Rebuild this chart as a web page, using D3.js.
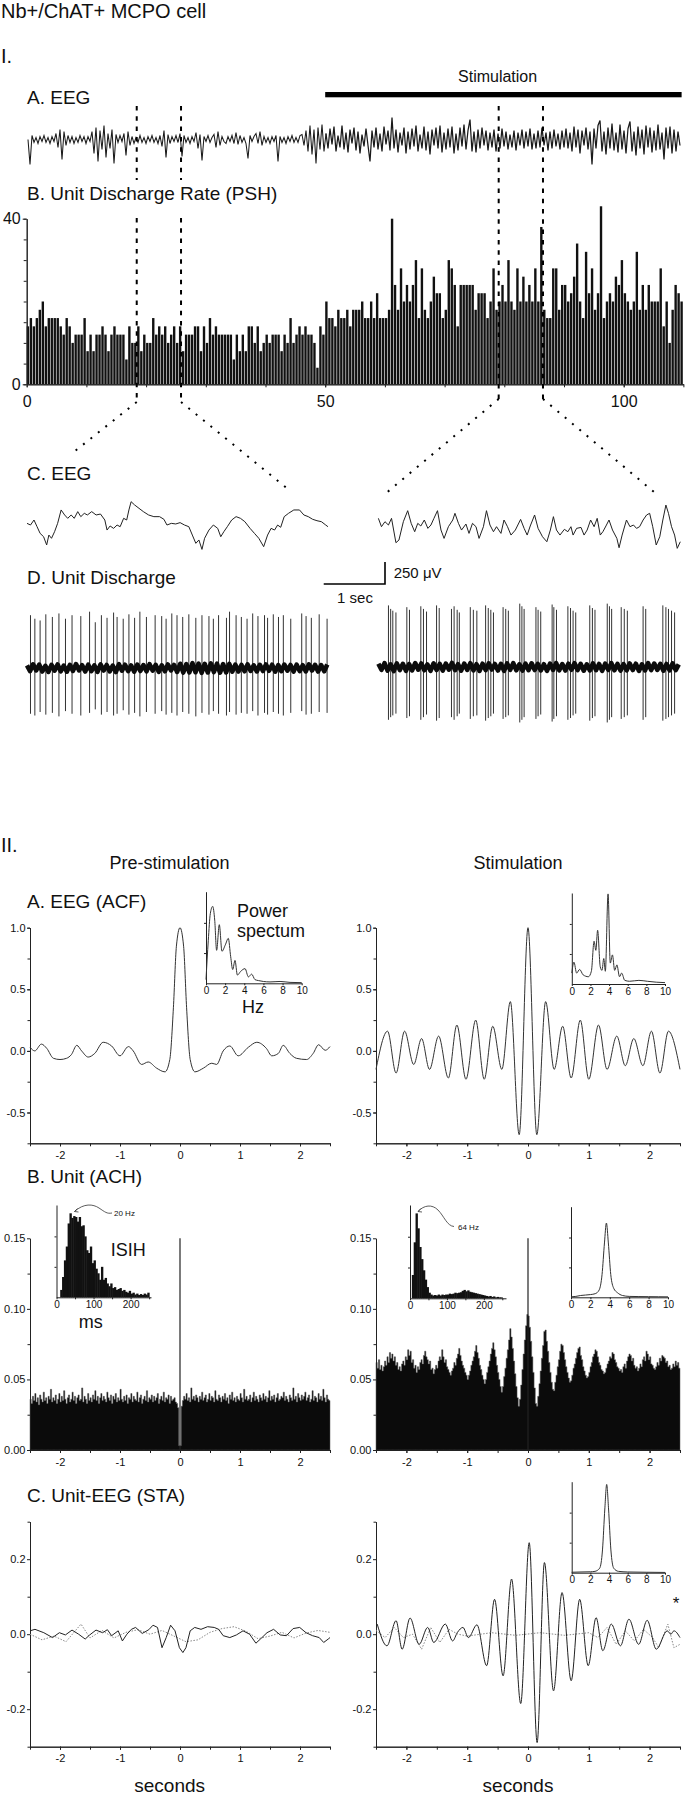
<!DOCTYPE html>
<html><head><meta charset="utf-8">
<script src="https://cdn.jsdelivr.net/npm/d3@7/dist/d3.min.js"></script>
<style>body{margin:0;background:#fff}svg{display:block}</style>
</head><body>
<svg id="c" width="686" height="1800"></svg>
<script>
// ===================== DATA =====================
const titleText = "Nb+/ChAT+ MCPO cell";
// I.B  PSH, 0.5 s bins (spikes/s)
const pshBinSec = 0.5;
const pshRate = [
14,16,14,16,18,20,14,16,16,16, 16,14,12,16,14,10,12,12,12,16, 8,12,8,12,12,14,12,8,12,14,
12,12,12,6,14,10,10,14,8,12, 10,10,16,12,14,12,14,10,12,14, 10,14,8,12,12,12,14,14,8,14,
10,16,12,14,12,12,12,12,12,6, 12,8,12,8,14,14,10,14,8,10, 12,10,12,12,12,8,12,10,16,10,
12,14,12,14,12,12,10,4,14,12, 20,16,16,14,18,16,
16,18,14,18,18,18,20,16,16,20, 16,22,16,16,16,18,40,24,18,28, 20,24,20,24,30,16,28,18,16,20,
26,22,22,16,18,30,28,24,14,24, 24,24,24,24,18,22,22,22,16,20, 28,18,20,24,20,30,20,18,28,20,
26,20,24,20,28,20,38,18,16,16, 28,28,18,24,24,20,22,26,34,20, 16,32,22,28,18,22,43,16,20,22,
20,26,24,30,22,20,18,20,32,18, 24,18,24,20,20,20,28,14,20,10, 18,24,22,20];
const pshXTickLabels = [0, 50, 100];
const pshYTickLabels = [0, 40];
const stimulationSec = [50, 109.7];
const zoomMarksSec = [18.43, 25.85, 79.06, 86.48];
// I.A  EEG (relative amplitude)
const eegPre = [
0,-25,4,-3,2,-4,3,-2,4,-3, 2,-4,3,-2,6,-8,10,-20,8,-6, 4,-3,3,-4,2,-3,4,-2,3,-4,
3,-2,8,-14,12,-22,9,-10,14,-18, 6,-9,10,-24,5,-3,4,-2,6,-16, 8,-6,3,-4,2,-3,4,-3,2,-4,
3,-2,4,-3,2,-4,4,-7,9,-18, 5,-4,3,-2,4,-3,6,-17,4,-3, 2,-4,3,-2,7,-9,5,-21,3,-2,
4,-3,2,5,-8,8,-6,3,-2,-4, 3,-2,4,-4,7,-5,4,-3,2,-4, -19,4,-2,3,6,-4,8,-6,3,-3,
2,-4,3,-2,4,-22,3,-3,2,-4, 3,-2,4,-3,2,-3,4,5,-6,9, -12,14,-15,10,-24,12,-10,15,-12];
const eegStim = [
6,-9,11,-5,13,-12,4,-8,14,-10,7,-13,10,-4,12,-11,8,-14,5,-7,
11,-6,-22,9,-8,12,-10,6,-12,13,-5,9,-11,22,-9,10,-13,7,-6,12,
-14,8,-10,11,-7,14,-12,5,-9,13,-11,8,-15,10,-6,12,-9,14,-13,7,
-10,11,-8,13,-14,6,-11,12,-7,15,-10,9,20,-12,8,-13,10,-9,12,-6,
9,-11,7,-8,10,-12,6,-9,11,-7,8,-10,5,-8,9,-11,7,-6,10,-9,
8,-7,11,-10,6,-9,9,-8,12,-6,7,-11,8,-9,10,-7,6,-10,9,-8,
11,-9,7,-12,13,-8,10,-14,9,-6,12,-10,8,-25,11,-9,14,19,-12,8,
-15,12,-9,16,-11,7,-13,15,-10,9,-14,11,18,-12,8,-16,13,-9,10,-15,
14,-8,12,-13,9,-11,15,-10,7,-20,12,-9,13,-14,10,-12,8,-6];
// I.C  EEG segments [sec, µV]
const eegPreSeg = [[0,-38],[0.057,-57],[0.114,0],[0.164,-76],[0.214,-152],[0.271,-190],[0.321,-284],[0.357,-171],[0.4,-208],[0.45,-133],[0.5,-38],[0.557,114],[0.614,57],[0.664,19],[0.721,57],[0.771,19],[0.828,95],[0.878,38],[0.935,76],[0.985,57],[1.056,95],[1.128,57],[1.199,68],[1.27,0],[1.306,-114],[1.356,-68],[1.413,-95],[1.47,-57],[1.52,-76],[1.577,19],[1.627,0],[1.663,114],[1.699,208],[1.756,171],[1.827,133],[1.899,95],[1.984,57],[2.07,38],[2.163,38],[2.234,8],[2.284,-57],[2.355,-38],[2.427,-45],[2.498,-30],[2.57,-57],[2.641,-76],[2.698,-171],[2.755,-265],[2.805,-227],[2.855,-334],[2.898,-208],[2.969,-114],[3.041,-57],[3.112,-95],[3.162,-190],[3.212,-133],[3.269,-76],[3.34,0],[3.412,38],[3.483,19],[3.555,-19],[3.64,-95],[3.712,-152],[3.783,-208],[3.862,-303],[3.926,-171],[3.983,-95],[4.04,-114],[4.09,-57],[4.14,-83],[4.197,38],[4.268,76],[4.354,114],[4.447,114],[4.518,57],[4.59,38],[4.661,8],[4.732,-8],[4.804,-19],[4.875,-57],[4.911,-76]];
const eegStimSeg = [[0,95],[0.05,0],[0.107,57],[0.164,19],[0.214,95],[0.286,-182],[0.335,-152],[0.407,57],[0.478,182],[0.535,38],[0.592,-57],[0.642,38],[0.692,8],[0.749,76],[0.807,-19],[0.857,19],[0.906,95],[0.964,182],[1.021,-38],[1.071,-133],[1.142,0],[1.213,76],[1.249,152],[1.306,38],[1.356,-38],[1.428,30],[1.478,-76],[1.535,38],[1.592,0],[1.642,-133],[1.713,0],[1.763,182],[1.82,19],[1.877,-57],[1.927,0],[1.999,-76],[2.049,76],[2.106,0],[2.163,-95],[2.234,-38],[2.32,83],[2.377,-19],[2.427,-95],[2.477,8],[2.548,133],[2.605,-19],[2.677,-114],[2.748,-171],[2.805,-38],[2.855,114],[2.905,-38],[2.962,-95],[3.034,-30],[3.091,-57],[3.141,0],[3.176,-95],[3.233,-19],[3.305,-8],[3.355,-95],[3.405,-38],[3.462,76],[3.519,0],[3.569,95],[3.619,-95],[3.662,-57],[3.712,8],[3.762,76],[3.819,-38],[3.89,-133],[3.926,-239],[3.976,-95],[4.047,76],[4.104,0],[4.161,19],[4.211,-19],[4.261,0],[4.318,76],[4.375,133],[4.425,152],[4.475,0],[4.532,-208],[4.59,-114],[4.64,76],[4.69,246],[4.732,152],[4.782,0],[4.832,-95],[4.875,-246],[4.925,-171]];
// I.D  unit discharge: spike times (s), peak up / down (µV); baseline noise (µV, 0.05 s steps)
const spikeTimesPre = [0.057,0.128,0.214,0.307,0.414,0.521,0.628,0.735,0.878,1.021,1.114,1.214,1.306,1.413,1.47,1.57,1.663,1.756,1.842,1.949,2.091,2.198,2.27,2.363,2.448,2.541,2.641,2.755,2.855,2.969,3.041,3.126,3.255,3.305,3.412,3.498,3.591,3.683,3.769,3.876,3.926,4.019,4.104,4.183,4.304,4.483,4.554,4.64,4.768,4.897];
const spikeUpPre = [600,560,540,610,580,620,560,600,590,640,520,600,570,630,580,560,610,570,640,580,600,590,560,620,600,580,610,570,600,590,560,600,570,640,600,580,560,620,590,600,570,610,580,600,560,620,590,570,610,560];
const spikeDownPre = [520,540,500,530,510,550,490,520,540,510,470,530,500,540,520,480,530,510,550,500,520,490,530,510,540,500,520,550,510,530,490,520,540,500,530,510,520,490,540,510,530,500,520,540,510,490,530,520,500,510];
const spikeTimesStim = [0.164,0.2,0.235,0.286,0.464,0.507,0.692,0.735,0.785,0.949,0.992,1.192,1.235,1.285,1.32,1.499,1.549,1.606,1.749,1.792,1.834,1.877,2.034,2.077,2.12,2.306,2.341,2.377,2.57,2.605,2.648,2.834,2.862,2.905,3.091,3.134,3.176,3.219,3.448,3.491,3.533,3.733,3.769,3.805,3.961,4.011,4.061,4.318,4.361,4.64,4.69,4.732,4.782,4.832];
const spikeUpStim = [700,660,640,620,680,650,690,660,630,700,670,660,690,650,620,680,650,640,700,670,650,620,680,660,640,720,690,660,680,650,630,710,680,650,690,670,640,620,700,670,650,720,690,660,680,660,640,690,660,700,680,660,640,620];
const spikeDownStim = [600,570,550,530,580,560,600,570,540,610,580,570,600,560,530,590,560,550,610,580,560,530,590,570,550,630,600,570,590,560,540,620,590,560,600,580,550,530,610,580,560,630,600,570,590,570,550,600,570,610,590,570,550,530];
const noiseStep = 0.05;
const unitNoisePre = [30,-35,42,-28,38,-40,25,-45,36,-30,40,-38,28,-42,35,-33,45,-27,32,-40,38,-36,30,-44,41,-29,34,-39,27,-46,43,-31,37,-35,29,-41,39,-34,33,-38,44,-30,36,-43,31,-37,40,-28,35,-45,48,-52,45,-50,55,-48,50,-55,47,-51,52,-46,49,-53,44,-50,46,-42,38,-40,35,-37,41,-33,30,-39,36,-34,40,-31,37,-42,33,-36,39,-30,34,-41,38,-35,31,-38,42,-29,36,-40,33,-37,39,-34];
const unitNoiseStim = [38,-32,44,-40,30,-46,41,-35,36,-43,33,-39,45,-31,40,-37,29,-44,42,-34,35,-41,38,-30,46,-36,32,-42,39,-33,43,-38,31,-45,37,-35,41,-29,34,-40,36,-43,40,-32,44,-37,30,-41,38,-36,42,-34,35,-39,31,-44,39,-33,45,-38,33,-40,37,-31,43,-35,36,-42,30,-39,41,-36,34,-43,38,-32,44,-37,35,-41,32,-38,40,-34,37,-45,31,-39,43,-35,39,-33,36,-42,34,-38,41,-36,30,-40];
// II.A  EEG autocorrelation [lag s, r]
const acfPre = [[-2.5,0.03],[-2.42,0],[-2.31,0.055],[-2.22,0.02],[-2.11,-0.06],[-2.0,-0.07],[-1.89,-0.06],[-1.81,-0.03],[-1.72,0.045],[-1.64,0],[-1.53,-0.05],[-1.42,-0.02],[-1.28,0.07],[-1.14,0.04],[-1.0,-0.04],[-0.86,0.035],[-0.78,0],[-0.64,-0.11],[-0.53,-0.09],[-0.39,-0.14],[-0.25,-0.17],[-0.17,-0.07],[-0.11,0.35],[-0.06,0.85],[0,1.0],[0.06,0.85],[0.11,0.35],[0.17,-0.07],[0.25,-0.17],[0.39,-0.14],[0.53,-0.1],[0.61,-0.11],[0.72,0],[0.83,0.04],[0.97,-0.04],[1.14,0.03],[1.28,0.07],[1.44,0.02],[1.53,-0.04],[1.64,-0.02],[1.72,0.045],[1.83,-0.02],[1.94,-0.06],[2.11,-0.07],[2.22,-0.02],[2.31,0.05],[2.42,0.005],[2.5,0.035]];
const acfStim = [[-2.5,-0.15],[-2.31,0.16],[-2.17,-0.18],[-2.03,0.16],[-1.88,-0.11],[-1.75,0.10],[-1.62,-0.15],[-1.47,0.12],[-1.31,-0.22],[-1.17,0.21],[-1.02,-0.23],[-0.86,0.25],[-0.72,-0.23],[-0.58,0.20],[-0.43,-0.15],[-0.29,0.40],[-0.145,-0.68],[0,1.0],[0.145,-0.68],[0.29,0.40],[0.43,-0.15],[0.57,0.20],[0.71,-0.22],[0.86,0.25],[1.0,-0.23],[1.16,0.21],[1.30,-0.15],[1.46,0.12],[1.60,-0.12],[1.74,0.10],[1.89,-0.12],[2.03,0.16],[2.17,-0.18],[2.31,0.16],[2.5,-0.15]];
// power spectra insets [Hz, relative power]
const psdPre = [[0,0.04],[0.24,0.47],[0.45,0.76],[0.70,0.84],[0.91,0.69],[1.11,0.36],[1.39,0.64],[1.67,0.35],[2.02,0.42],[2.33,0.49],[2.58,0.29],[2.79,0.15],[3.03,0.25],[3.28,0.09],[3.62,0.13],[4.08,0.16],[4.43,0.07],[4.77,0.10],[5.12,0.04],[5.47,0.03],[5.99,0.02],[6.69,0.015],[7.74,0.02],[8.78,0.01],[10,0.007]];
const psdStim = [[0,0.12],[0.23,0.24],[0.52,0.12],[0.84,0.16],[1.22,0.10],[1.78,0.08],[2.1,0.14],[2.39,0.47],[2.58,0.37],[2.77,0.59],[3.05,0.19],[3.24,0.15],[3.43,0.28],[3.6,0.14],[3.89,0.99],[4.13,0.23],[4.36,0.32],[4.6,0.15],[4.84,0.21],[5.12,0.08],[5.35,0.12],[5.68,0.04],[6.2,0.03],[7.2,0.04],[8.1,0.03],[9.06,0.02],[10,0.015]];
const psdAch = [[0,0.005],[0.5,0.01],[1,0.02],[1.5,0.025],[2,0.03],[2.5,0.04],[2.9,0.08],[3.2,0.25],[3.45,0.6],[3.65,0.82],[3.85,0.6],[4.1,0.25],[4.4,0.1],[4.8,0.05],[5.3,0.02],[6,0.01],[7,0.008],[8,0.007],[9,0.006],[10,0.005]];
const psdSta = [[0,0.005],[1,0.008],[2,0.01],[2.5,0.015],[3,0.05],[3.3,0.25],[3.55,0.7],[3.75,0.97],[3.95,0.7],[4.2,0.25],[4.5,0.05],[5,0.015],[6,0.008],[8,0.005],[10,0.003]];
// II.B  autocorrelation histograms, 0.02 s bins, values x 0.001
const achBinSec = 0.02;
const achPreMilli = [
36,33,38,35,40,34,37,32,39,36, 34,41,35,37,33,38,36,43,34,37, 35,39,33,36,40,34,38,35,42,36,
33,37,39,34,36,41,35,38,33,37, 39,35,36,44,34,38,36,33,40,35, 37,34,39,36,42,35,38,33,37,40,
35,38,36,34,41,37,35,39,33,38, 36,40,34,37,35,43,36,34,38,35, 39,33,37,36,40,34,38,36,35,41,
34,37,39,33,36,38,35,42,34,37, 36,39,34,38,35,37,40,33,36,38, 35,41,34,37,36,39,33,38,35,36,
37,34,33,30,3,3,31,35,38,36, 40,35,37,34,44,36,38,35,39,37, 34,38,36,41,35,37,39,34,36,40,
35,38,37,34,42,36,35,39,37,34, 38,36,40,35,37,33,39,36,41,35, 37,34,38,36,35,40,37,34,43,36,
38,35,36,39,34,37,41,35,38,36, 34,39,37,35,40,36,38,34,37,42, 35,38,36,39,34,37,40,35,36,38,
37,41,35,38,36,34,39,37,35,44, 36,38,34,40,37,35,39,36,38,41, 35,37,39,34,36,42,35,38,37,34,
40,36,38,35,43,37,34,39,36,35];
const achStimMilli = [
62,58,64,57,60,56, 59,63,60,66,62,69,65, 68,63,66,60,62,57,59, 56,61,63,60,66,64,71,
67,70,62,64,58,60,55, 59,57,62,64,61,67,70, 66,64,61,63,57,58,54, 57,60,58,63,66,64,71,
66,62,64,59,57,55,53, 56,58,62,60,65,68,72, 67,63,60,58,55,53,50, 53,56,60,63,66,70,74,
69,65,60,57,53,50,47, 50,55,59,63,68,72,76, 71,66,60,55,50,45,41, 45,52,58,65,71,78,86,
80,72,63,54,45,37,31, 36,46,57,68,78,88,96, 95,87,77,66,55,44,33, 31,38,47,56,65,74,84,
85,77,70,62,55,48,43, 42,48,53,59,64,70,75, 74,69,64,59,55,51,48, 49,53,58,61,65,69,72,
73,67,64,59,56,53,51, 52,55,59,62,66,68,71, 70,66,62,60,57,56,54, 55,58,61,63,66,65,69,
68,64,62,59,58,56,57, 55,59,61,58,63,66,68, 67,63,65,60,58,59,56, 58,61,59,64,66,63,70,
68,64,66,61,60,58,57, 59,62,60,65,63,67,66, 65,62,63,59,60,57,58, 61,59,63,60,62,58];
const achCenterPeak = 0.15;
// ISI histograms, 5 ms bins, relative counts
const isiBinMs = 5;
const isihPre = [0,0,0.08,0.22,0.40,0.55,0.80,0.91,0.86,0.88,0.87,0.82,0.87,0.77,0.78,0.66,0.51,0.48,0.55,0.37,0.40,0.31,0.26,0.19,0.33,0.19,0.21,0.15,0.12,0.15,0.10,0.11,0.08,0.09,0.10,0.07,0.08,0.06,0.05,0.07,0.04,0.05,0.03,0.04,0.025,0.035,0.025,0.04,0.03,0.05];
const isihStim = [0,0.25,0.6,0.91,0.75,0.55,0.42,0.3,0.2,0.12,0.06,0.04,0.03,0.035,0.03,0.04,0.03,0.04,0.035,0.04,0.04,0.05,0.045,0.05,0.06,0.055,0.06,0.065,0.08,0.09,0.075,0.085,0.07,0.065,0.06,0.055,0.05,0.045,0.04,0.035,0.03,0.025,0.02,0.025,0.015,0.02,0.01,0.015,0.01,0.01];
// II.C  spike-triggered averages [s, value]
const staPre = [[-2.5,0.009],[-2.417,0.013],[-2.27,0.004],[-2.125,-0.009],[-2.01,0.004],[-1.91,-0.002],[-1.80,0.011],[-1.69,0],[-1.58,-0.013],[-1.505,-0.002],[-1.40,0.011],[-1.29,0.004],[-1.21,0.012],[-1.14,-0.004],[-1.03,0.009],[-0.96,-0.018],[-0.885,0],[-0.81,0.013],[-0.74,0.018],[-0.63,0.002],[-0.52,0.012],[-0.45,0.024],[-0.375,0.018],[-0.30,-0.036],[-0.23,-0.009],[-0.157,0.024],[-0.083,0.009],[-0.01,-0.036],[0.048,-0.049],[0.099,-0.036],[0.17,0.009],[0.245,0.018],[0.35,0.013],[0.46,0.02],[0.57,0.018],[0.645,0.013],[0.72,-0.004],[0.83,-0.009],[0.94,-0.002],[1.05,0.009],[1.16,0],[1.265,-0.024],[1.34,-0.013],[1.45,0.004],[1.56,0.013],[1.67,-0.002],[1.775,-0.004],[1.885,0.015],[1.995,0.018],[2.10,0.004],[2.21,-0.004],[2.32,-0.009],[2.395,-0.022],[2.47,-0.013],[2.5,-0.009]];
const staPreShuffled = [[-2.5,0],[-2.3,-0.015],[-2.1,-0.005],[-1.9,-0.02],[-1.65,0.027],[-1.5,-0.01],[-1.3,0.01],[-1.1,-0.01],[-0.9,0.005],[-0.7,0.012],[-0.5,0],[-0.3,0.01],[-0.1,-0.005],[0.1,-0.02],[0.3,-0.015],[0.5,0.005],[0.7,0.015],[0.9,0.02],[1.1,0.008],[1.3,-0.012],[1.5,-0.005],[1.7,0.005],[1.9,-0.01],[2.1,0.003],[2.3,0.01],[2.5,0.005]];
const staStim = [[-2.48,0.027],[-2.32,-0.031],[-2.17,0.036],[-2.07,-0.04],[-1.94,0.043],[-1.79,-0.027],[-1.65,0.018],[-1.55,-0.022],[-1.36,0.027],[-1.24,-0.018],[-1.16,0.005],[-1.07,0.018],[-0.98,-0.009],[-0.84,0.025],[-0.68,-0.084],[-0.55,0.093],[-0.41,-0.111],[-0.27,0.147],[-0.12,-0.185],[0.02,0.244],[0.15,-0.289],[0.27,0.191],[0.42,-0.151],[0.56,0.111],[0.71,-0.124],[0.85,0.093],[0.99,-0.084],[1.12,0.044],[1.23,-0.044],[1.37,0.027],[1.52,-0.031],[1.66,0.04],[1.82,-0.027],[1.96,0.037],[2.11,-0.04],[2.29,0.009],[2.35,0],[2.4,0.009],[2.5,-0.009]];
const staStimShuffled = [[-2.5,0.01],[-2.35,-0.009],[-2.2,0.018],[-2.05,-0.009],[-1.9,0],[-1.75,-0.04],[-1.6,0.018],[-1.45,-0.022],[-1.3,0.013],[-1.15,0],[-1.0,-0.005],[-0.6,0.004],[-0.2,-0.003],[0.2,0.004],[0.6,-0.003],[1.0,0.004],[1.15,-0.009],[1.3,0.018],[1.45,-0.027],[1.6,0.009],[1.75,-0.018],[1.9,0.013],[2.05,-0.009],[2.15,-0.036],[2.3,0.027],[2.4,-0.036],[2.5,-0.027]];
// tick values
const lagMajor = [-2,-1,0,1,2];
const lagMinor = [-2.5,-2,-1.5,-1,-0.5,0,0.5,1,1.5,2,2.5];
const acfMajor = [-0.5,0,0.5,1.0], acfMinor = [-0.75,-0.5,-0.25,0,0.25,0.5,0.75,1.0];
const achMajor = [0,0.05,0.10,0.15], achMinor = [0.025,0.075,0.125];
const staMajor = [-0.2,0,0.2], staMinor = [-0.3,-0.1,0.1,0.3];
const hzTicks = [0,2,4,6,8,10];
const msTicks = [0,50,100,150,200,250], msLabels = [0,100,200];

// ===================== DRAW =====================
const FONT = '"Liberation Sans", Arial, Helvetica, sans-serif';
const INK = "#111";
const svg = d3.select("#c");
svg.append("rect").attr("width",686).attr("height",1800).attr("fill","#fff");

function T(x,y,s,size,anchor){
  return svg.append("text").attr("x",x).attr("y",y).attr("font-size",size)
    .attr("font-family",FONT).attr("fill",INK).attr("text-anchor",anchor||"start").text(s);
}
function styleAxis(g,fs){
  g.selectAll("path,line").attr("stroke","#222").attr("stroke-width",1);
  g.selectAll("text").attr("font-size",fs).attr("font-family",FONT).attr("fill",INK);
  g.attr("font-family",null).attr("font-size",null);
}
function path(data, x, y, opt){
  const line = d3.line().x(d=>x(d[0])).y(d=>y(d[1])).curve(opt.curve||d3.curveLinear);
  const p = svg.append("path").attr("d",line(data)).attr("fill","none")
    .attr("stroke",opt.stroke||"#222").attr("stroke-width",opt.w||1).attr("stroke-linejoin","round");
  if(opt.dash) p.attr("stroke-dasharray",opt.dash);
  return p;
}

// ---- Titles ----
T(1,18,titleText,20);
T(1,63,"I.",20);
T(27,104,"A. EEG",19);
T(27,200,"B. Unit Discharge Rate (PSH)",19);
T(27,480,"C. EEG",19);
T(27,584,"D. Unit Discharge",19);
T(1,852,"II.",20);
T(169.6,869,"Pre-stimulation",18,"middle");
T(518,869,"Stimulation",18,"middle");
T(27,908,"A. EEG (ACF)",19);
T(27,1183,"B. Unit (ACH)",19);
T(27,1502,"C. Unit-EEG (STA)",19);

// ---- I.B PSH ----
const pshX = d3.scaleLinear().domain([0,110]).range([26.7,683.4]);
const pshY = d3.scaleLinear().domain([0,40]).range([384.3,218.7]);
svg.append("g").selectAll("rect").data(pshRate).join("rect")
  .attr("x",(d,i)=>pshX(i*pshBinSec)).attr("width",pshX(pshBinSec)-pshX(0)-0.6)
  .attr("y",d=>pshY(d)).attr("height",d=>pshY(0)-pshY(d)).attr("fill",INK);
let g = svg.append("g").attr("transform",`translate(${pshX(0)},0)`)
  .call(d3.axisLeft(pshY).tickValues(d3.range(0,41,5)).tickSize(3).tickSizeOuter(0).tickFormat(""));
styleAxis(g,15);
g = svg.append("g").attr("transform",`translate(${pshX(0)},0)`)
  .call(d3.axisLeft(pshY).tickValues(pshYTickLabels).tickSize(4).tickPadding(2).tickSizeOuter(0).tickFormat(d=>d));
styleAxis(g,16);
g = svg.append("g").attr("transform",`translate(0,${pshY(0)})`)
  .call(d3.axisBottom(pshX).tickValues(d3.range(0,111,10)).tickSize(3).tickSizeOuter(0).tickFormat(""));
styleAxis(g,15);
g = svg.append("g").attr("transform",`translate(0,${pshY(0)})`)
  .call(d3.axisBottom(pshX).tickValues(pshXTickLabels).tickSize(3).tickPadding(8).tickSizeOuter(0).tickFormat(d=>d));
styleAxis(g,16);

// stimulation bar
T(497.6,82,"Stimulation",16,"middle");
svg.append("rect").attr("x",pshX(stimulationSec[0])).attr("width",pshX(stimulationSec[1])-pshX(stimulationSec[0]))
  .attr("y",92).attr("height",5.3).attr("fill","#000");

// ---- I.A EEG ----
const eegX = d3.scaleLinear().domain([0,eegPre.length+eegStim.length-1]).range([28,680]);
const eegY = d3.scaleLinear().domain([-30,30]).range([169.5,109.5]);
svg.append("path").attr("d",d3.line().x((d,i)=>eegX(i)).y(d=>eegY(d))(eegPre.concat(eegStim[0])))
  .attr("fill","none").attr("stroke","#1a1a1a").attr("stroke-width",1.05);
svg.append("path").attr("d",d3.line().x((d,i)=>eegX(i+eegPre.length)).y(d=>eegY(d))(eegStim))
  .attr("fill","none").attr("stroke","#1a1a1a").attr("stroke-width",1.25);

// dashed markers
zoomMarksSec.forEach((s,k)=>{
  const x = pshX(s);
  const segs = k<2 ? [[106,180],[218,402]] : [[106,402]];
  segs.forEach(sg=>svg.append("line").attr("x1",x).attr("x2",x).attr("y1",sg[0]).attr("y2",sg[1])
    .attr("stroke","#000").attr("stroke-width",2).attr("stroke-dasharray","4.5,5.8"));
});

// ---- I.C / I.D ----
const segX1 = d3.scaleLinear().domain([0,4.92]).range([27,328.5]);
const segX2 = d3.scaleLinear().domain([0,4.92]).range([378.4,680]);
const uvPx = 22/250;
const cY1 = d3.scaleLinear().domain([-250,250]).range([520+22,520-22]);
const cY2 = d3.scaleLinear().domain([-250,250]).range([526.7+22,526.7-22]);
// zoom lines
[[zoomMarksSec[0],402,segX1(0)+43,455],[zoomMarksSec[1],402,segX1(4.92)-37,492],
 [zoomMarksSec[2],399,segX2(0)+9,492],[zoomMarksSec[3],399,segX2(4.92)-26,492]].forEach(l=>{
  svg.append("line").attr("x1",pshX(l[0])).attr("y1",l[1]).attr("x2",l[2]).attr("y2",l[3])
    .attr("stroke","#000").attr("stroke-width",2).attr("stroke-dasharray","2,7.5");
});
path(eegPreSeg,segX1,cY1,{w:1,stroke:"#222"});
path(eegStimSeg,segX2,cY2,{w:1,stroke:"#222"});

// scale bar
const sbx = 385, sby = 584;
svg.append("path").attr("d",`M${sbx-(segX1(1)-segX1(0))},${sby}H${sbx}V${sby-250*uvPx}`)
  .attr("fill","none").attr("stroke","#000").attr("stroke-width",1.6);
T(393.7,578,"250 \u03bcV",15);
T(355,603,"1 sec",15,"middle");

function unitTrace(xs, base, times, ups, downs, noise){
  const y = d3.scaleLinear().domain([-250,250]).range([base+22,base-22]);
  const pts = noise.map((v,i)=>[i*noiseStep, v]).filter(d=>d[0]<=4.92);
  svg.append("g").selectAll("line").data(times).join("line")
    .attr("x1",d=>xs(d)).attr("x2",d=>xs(d))
    .attr("y1",(d,i)=>y(ups[i])).attr("y2",(d,i)=>y(-downs[i]))
    .attr("stroke","#333").attr("stroke-width",1);
  path(pts, xs, y, {w:4.6, stroke:"#0c0c0c"});
}
unitTrace(segX1, 668, spikeTimesPre, spikeUpPre, spikeDownPre, unitNoisePre);
unitTrace(segX2, 667, spikeTimesStim, spikeUpStim, spikeDownStim, unitNoiseStim);

// ---- II panels helpers ----
const lagX1 = d3.scaleLinear().domain([-2.5,2.5]).range([30,330]);
const lagX2 = d3.scaleLinear().domain([-2.5,2.5]).range([376,680]);
function panelAxes(xs, ys, major, minor, fmt){
  let a = svg.append("g").attr("transform",`translate(${xs.range()[0]},0)`)
    .call(d3.axisLeft(ys).tickValues(minor).tickSize(2.5).tickSizeOuter(0).tickFormat(""));
  styleAxis(a,11);
  a = svg.append("g").attr("transform",`translate(${xs.range()[0]},0)`)
    .call(d3.axisLeft(ys).tickValues(major).tickSize(3).tickPadding(1.5).tickSizeOuter(0).tickFormat(fmt));
  styleAxis(a,11);
  const y0 = ys.range()[0];
  a = svg.append("g").attr("transform",`translate(0,${y0})`)
    .call(d3.axisBottom(xs).tickValues(lagMinor).tickSize(3).tickSizeOuter(0).tickFormat(""));
  styleAxis(a,11);
  a = svg.append("g").attr("transform",`translate(0,${y0})`)
    .call(d3.axisBottom(xs).tickValues(lagMajor).tickSize(3).tickPadding(5).tickSizeOuter(0).tickFormat(d=>String(d)));
  styleAxis(a,11);
}
function inset(x0,x1,yb,yt,xDomain,ticks,labels){
  const x = d3.scaleLinear().domain(xDomain).range([x0,x1]);
  const y = d3.scaleLinear().domain([0,1]).range([yb,yt]);
  let a = svg.append("g").attr("transform",`translate(${x0},0)`)
    .call(d3.axisLeft(y).tickValues([0.33,0.66]).tickSize(2).tickSizeOuter(0).tickFormat(""));
  styleAxis(a,10);
  a = svg.append("g").attr("transform",`translate(0,${yb})`)
    .call(d3.axisBottom(x).tickValues(ticks).tickSize(2).tickPadding(1.5).tickSizeOuter(0)
      .tickFormat(d=>labels.includes(d)?String(d):""));
  styleAxis(a,10);
  return {x,y};
}

// ---- II.A ACF ----
const acfY = d3.scaleLinear().domain([-0.75,1]).range([1143.3,927.7]);
panelAxes(lagX1, acfY, acfMajor, acfMinor, d=>d.toFixed(1));
panelAxes(lagX2, acfY, acfMajor, acfMinor, d=>d.toFixed(1));
path(acfPre, lagX1, acfY, {curve:d3.curveMonotoneX, w:1, stroke:"#333"});
path(acfStim, lagX2, acfY, {curve:d3.curveMonotoneX, w:1, stroke:"#333"});
let ins = inset(206,301.7,983.3,891.7,[0,10],hzTicks,hzTicks);
path(psdPre, ins.x, ins.y, {curve:d3.curveMonotoneX, w:1, stroke:"#333"});
ins = inset(571.8,665,984,893,[0,10],hzTicks,hzTicks);
path(psdStim, ins.x, ins.y, {curve:d3.curveMonotoneX, w:1, stroke:"#333"});
T(237,916.7,"Power",18); T(237,936.7,"spectum",18); T(242,1013,"Hz",18);

// ---- II.B ACH ----
const achY = d3.scaleLinear().domain([0,0.15]).range([1450,1238.3]);
function achArea(xs, vals){
  const pts = vals.map((v,i)=>[-2.5+i*achBinSec, v*1e-3]);
  pts.push([2.5, vals[vals.length-1]*1e-3]);
  const area = d3.area().x(d=>xs(d[0])).y0(achY(0)).y1(d=>achY(d[1])).curve(d3.curveStepAfter);
  svg.append("path").attr("d",area(pts)).attr("fill","#0b0b0b")
    .attr("stroke","#555").attr("stroke-width",0.5);
  svg.append("line").attr("x1",xs(0)).attr("x2",xs(0)).attr("y1",achY(0)).attr("y2",achY(achCenterPeak))
    .attr("stroke","#222").attr("stroke-width",1.2);
}
achArea(lagX1, achPreMilli);
achArea(lagX2, achStimMilli);
panelAxes(lagX1, achY, achMajor, achMinor, d=>d.toFixed(2));
panelAxes(lagX2, achY, achMajor, achMinor, d=>d.toFixed(2));
function isiInset(x0,x1,xMax,yb,yt,vals){
  const s = inset(x0,x1,yb,yt,[0,xMax],msTicks,msLabels);
  svg.append("g").selectAll("rect").data(vals).join("rect")
    .attr("x",(d,i)=>s.x(i*isiBinMs)).attr("width",s.x(isiBinMs)-s.x(0)+0.5)
    .attr("y",d=>s.y(d)).attr("height",d=>s.y(0)-s.y(d)).attr("fill",INK);
  return s;
}
isiInset(56.5,151,255,1297.3,1205,isihPre);
isiInset(410,506,260,1298.3,1205,isihStim);
ins = inset(571,668,1297.3,1206.7,[0,10],hzTicks,hzTicks);
path(psdAch, ins.x, ins.y, {curve:d3.curveMonotoneX, w:1, stroke:"#333"});
T(110.7,1256,"ISIH",18); T(78.7,1328,"ms",18);
svg.append("path").attr("d","M74.5,1211.5 C84,1203 93,1204 99,1208 S107,1214 112,1213")
  .attr("fill","none").attr("stroke","#333").attr("stroke-width",0.8);
svg.append("path").attr("d","M77.5,1208.5 L74.5,1211.5 L78.5,1212").attr("fill","none").attr("stroke","#333").attr("stroke-width",0.8);
T(114,1216,"20 Hz",8);
svg.append("path").attr("d","M418,1211.5 C424,1205 432,1204 438,1210 S447,1226 454,1226.5")
  .attr("fill","none").attr("stroke","#333").attr("stroke-width",0.8);
svg.append("path").attr("d","M421,1208.5 L418,1211.5 L422,1212").attr("fill","none").attr("stroke","#333").attr("stroke-width",0.8);
T(458,1229.5,"64 Hz",8);

// ---- II.C STA ----
const staY = d3.scaleLinear().domain([-0.3,0.3]).range([1746.7,1521.7]);
panelAxes(lagX1, staY, staMajor, staMinor, d=>d.toFixed(1));
panelAxes(lagX2, staY, staMajor, staMinor, d=>d.toFixed(1));
path(staPreShuffled, lagX1, staY, {w:1, stroke:"#888", dash:"1.5,1.5"});
path(staPre, lagX1, staY, {w:1, stroke:"#222"});
path(staStimShuffled, lagX2, staY, {w:1, stroke:"#888", dash:"1.5,1.5"});
path(staStim, lagX2, staY, {curve:d3.curveMonotoneX, w:1, stroke:"#222"});
ins = inset(571.7,665,1572.7,1481.7,[0,10],hzTicks,hzTicks);
path(psdSta, ins.x, ins.y, {curve:d3.curveMonotoneX, w:1, stroke:"#333"});
T(676,1609,"*",17,"middle");
T(169.7,1792,"seconds",19,"middle");
T(518,1792,"seconds",19,"middle");
</script>
</body></html>
